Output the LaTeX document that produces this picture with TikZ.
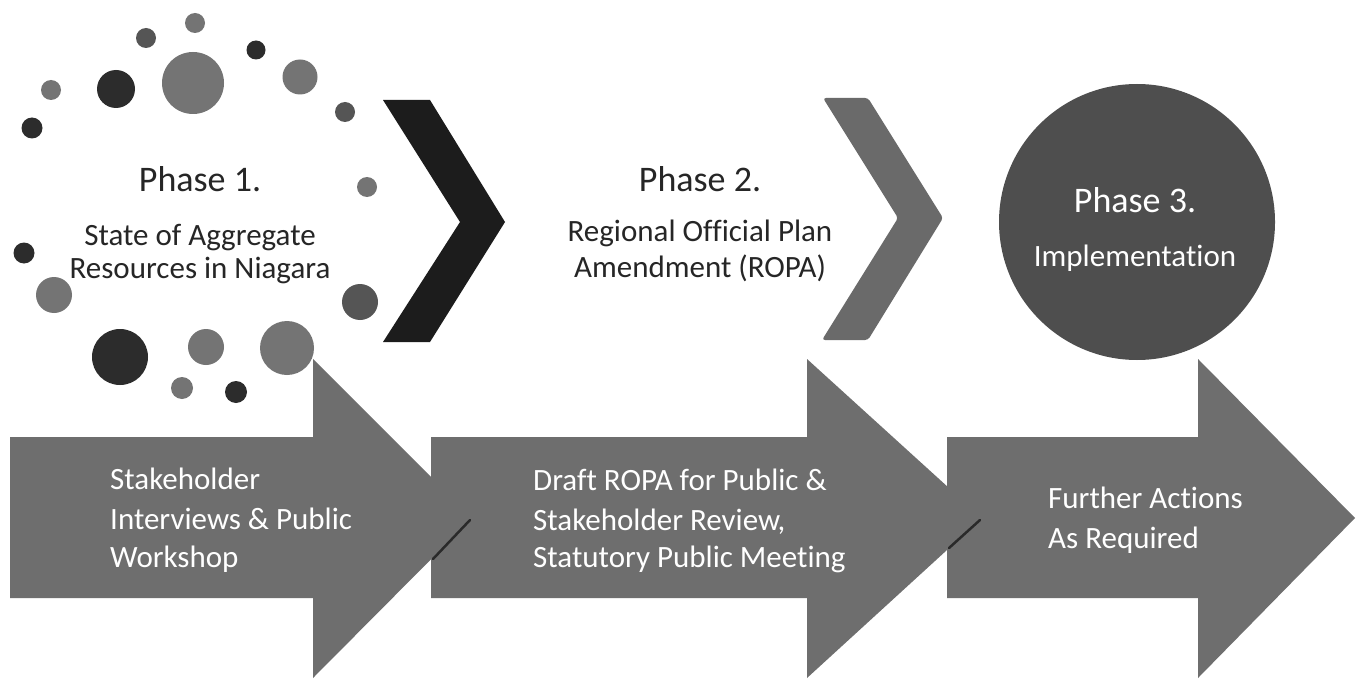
\documentclass[tikz,border=0pt]{standalone}
\usepackage{fontspec}
\setmainfont{Carlito}[Ligatures=NoCommon]
\definecolor{arrowgrey}{HTML}{6E6E6E}
\definecolor{chevdark}{HTML}{1C1C1C}
\definecolor{chevgrey}{HTML}{6A6A6A}
\definecolor{circgrey}{HTML}{4E4E4E}
\definecolor{dotdark}{HTML}{2C2C2C}
\definecolor{dotmid}{HTML}{555555}
\definecolor{dotlight}{HTML}{747474}
\definecolor{tipshade}{HTML}{2A2A2A}
\begin{document}
\begin{tikzpicture}[x=1pt,y=-1pt,
  titletext/.style={font=\fontsize{36}{40}\selectfont, anchor=base, inner sep=0pt, text=black!85},
  subtext/.style={font=\fontsize{31}{36}\selectfont, anchor=base, inner sep=0pt, text=black!85},
  arrowtext/.style={font=\fontsize{31}{40}\selectfont, anchor=base west, inner sep=0pt, text=white},
  phasetext/.style={font=\fontsize{31}{36}\selectfont, anchor=base, inner sep=0pt, text=white},
  arrowshape/.style={fill=arrowgrey},
  tipline/.style={draw=tipshade, line width=2.5pt, line cap=round}
]
\fill[white] (0,0) rectangle (1356,679);
\useasboundingbox (0,0) rectangle (1356,679);

% ---- dots around phase 1 ----
\fill[dotlight] (195,23) circle[radius=10pt];
\fill[dotmid]   (146,38) circle[radius=10pt];
\fill[dotdark]  (256,50) circle[radius=9.5pt];
\fill[dotlight] (193,83) circle[radius=31pt];
\fill[dotlight] (300,77) circle[radius=17.5pt];
\fill[dotdark]  (116,89) circle[radius=19pt];
\fill[dotlight] (51,90) circle[radius=10pt];
\fill[dotdark]  (32,128) circle[radius=10.5pt];
\fill[dotmid]   (345,112) circle[radius=10pt];
\fill[dotlight] (367,187) circle[radius=10pt];
\fill[dotdark]  (24,253) circle[radius=10.5pt];
\fill[dotlight] (54,295) circle[radius=18pt];
\fill[dotmid]   (360,302) circle[radius=18pt];
\fill[dotdark]  (120,357) circle[radius=28pt];
\fill[dotlight] (206,347) circle[radius=18pt];
\fill[dotlight] (287,348) circle[radius=27pt];
\fill[dotlight] (182,388) circle[radius=11pt];
\fill[dotdark]  (236,392) circle[radius=11pt];

% ---- chevrons ----
\fill[chevdark] (383,100) -- (430,100) -- (505,222) -- (430,342) -- (383,342) -- (460,222) -- cycle;
\fill[chevgrey, rounded corners=3pt] (823,98) -- (868,98) -- (943,218) -- (868,340) -- (822,340) -- (898,218) -- cycle;

% ---- phase 3 circle ----
\fill[circgrey] (1137,222) circle[radius=138pt];

% ---- arrows (drawn right to left so each tip lies over the next body) ----
\fill[arrowshape] (947,437) -- (1198,437) -- (1198,359) -- (1355,518) -- (1198,678) -- (1198,598) -- (947,598) -- cycle;
\fill[arrowshape] (431,437) -- (807,437) -- (807,359) -- (982,518) -- (807,678) -- (807,598) -- (431,598) -- cycle;
\draw[tipline] (980,520) -- (949,548);
\fill[arrowshape] (10,437) -- (313,437) -- (313,359) -- (472,518) -- (313,678) -- (313,598) -- (10,598) -- cycle;
\draw[tipline] (470,520) -- (433,559);

% ---- phase texts ----
\node[titletext] (p1title) at (200,192) {Phase 1.};
\node[subtext] (p1a) at (200,245) {State of Aggregate};
\node[subtext] (p1b) at (200,278) {Resources in Niagara};

\node[titletext] (p2title) at (700,191) {Phase 2.};
\node[subtext] (p2a) at (700,241) {Regional Official Plan};
\node[subtext] (p2b) at (700,277) {Amendment (ROPA)};

\node[titletext, text=white] (p3title) at (1135,212) {Phase 3.};
\node[phasetext] (p3a) at (1135,266) {Implementation};

% ---- arrow texts ----
\node[arrowtext] (a1a) at (110,489) {Stakeholder};
\node[arrowtext] (a1b) at (110,529) {Interviews \& Public};
\node[arrowtext] (a1c) at (110,567) {Workshop};

\node[arrowtext] (a2a) at (533,490) {Draft ROPA for Public \&};
\node[arrowtext] (a2b) at (533,530) {Stakeholder Review,};
\node[arrowtext] (a2c) at (533,567) {Statutory Public Meeting};

\node[arrowtext] (a3a) at (1048,508) {Further Actions};
\node[arrowtext] (a3b) at (1048,548) {As Required};
\end{tikzpicture}
\end{document}
